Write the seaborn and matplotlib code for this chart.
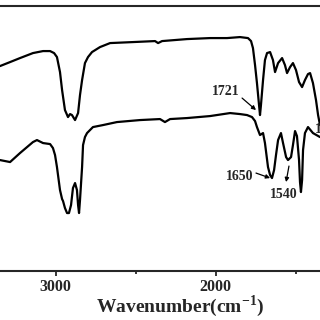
import numpy as np
import pandas as pd
import seaborn as sb
import matplotlib.pyplot as plt

# wavenumber (cm-1) and transmittance (arb. units)
wn_top = [3347, 3284, 3222, 3141, 3078, 3034, 3009, 2991, 2972, 2959, 2941, 2922, 2909, 2897,
          2878, 2859, 2847, 2834, 2816, 2797, 2772, 2722, 2659, 2516, 2378, 2359, 2334, 2178,
          2034, 1928, 1847, 1797, 1778, 1766, 1753, 1741, 1728, 1722, 1716, 1703, 1691, 1678,
          1659, 1641, 1628, 1609, 1584, 1566, 1553, 1534, 1516, 1497, 1478, 1459, 1441, 1422,
          1409, 1391, 1372, 1359, 1347]
t_top = [205, 209, 213, 218, 220, 220, 218, 214, 199, 181, 161, 154, 157, 156,
         151, 158, 176, 191, 208, 214, 219, 224, 228, 229, 230, 228, 230, 232,
         233, 233, 234, 233, 230, 223, 206, 188, 166, 156, 166, 191, 211, 218,
         219, 211, 199, 208, 213, 206, 198, 204, 208, 201, 189, 184, 191, 197,
         198, 188, 171, 156, 146]

wn_bot = [3347, 3284, 3222, 3141, 3116, 3078, 3034, 3016, 3003, 2991, 2972, 2959, 2953, 2941,
          2928, 2916, 2903, 2891, 2878, 2866, 2859, 2853, 2847, 2834, 2828, 2816, 2803, 2766,
          2703, 2616, 2472, 2347, 2316, 2284, 2178, 2034, 1909, 1847, 1803, 1772, 1753, 1741,
          1722, 1703, 1691, 1672, 1659, 1647, 1634, 1622, 1609, 1591, 1578, 1559, 1547, 1528,
          1516, 1503, 1491, 1478, 1472, 1466, 1459, 1453, 1441, 1422, 1391, 1347]
t_bot = [111, 109, 118, 129, 131, 128, 127, 123, 116, 104, 81, 72, 70, 63,
         58, 58, 66, 83, 88, 81, 66, 58, 71, 104, 126, 134, 138, 144,
         146, 149, 151, 152, 149, 152, 153, 155, 158, 157, 156, 154, 150, 144,
         136, 138, 128, 104, 96, 93, 101, 116, 131, 138, 128, 114, 111, 114,
         126, 140, 135, 111, 89, 79, 91, 121, 138, 144, 138, 134]

peak_labels = ["1721", "1650", "1540", "1465"]
label_pos = [(1934, 180), (1847, 95), (1572, 77), (1378, 142)]
label_ha = ["center", "center", "center", "left"]
arrow_tail = [(1834, 173), (1747, 98), (1541, 105)]
arrow_tip = [(1747, 161), (1659, 93), (1559, 89)]

sb.set_style("ticks")
plt.rcParams['font.family'] = ['Liberation Serif', 'DejaVu Serif']
plt.rcParams['mathtext.fontset'] = 'custom'
plt.rcParams['mathtext.bf'] = 'Liberation Serif:bold'
plt.rcParams['mathtext.rm'] = 'Liberation Serif:bold'

top = pd.DataFrame({"wn": wn_top, "T": t_top})
bot = pd.DataFrame({"wn": wn_bot, "T": t_bot})

fig = plt.figure(figsize=(3.2, 3.2), dpi=100)
ax = fig.add_axes([0.0, 0.153, 1.0, 0.828])
sb.lineplot(data=top, x="wn", y="T", color="black", lw=1.6, ax=ax)
sb.lineplot(data=bot, x="wn", y="T", color="black", lw=1.6, ax=ax)

ax.set_xticks([3000, 2000])
ax.set_xticklabels(["3000", "2000"], fontsize=11.5, fontweight="bold")
ax.set_xticks([2500, 1500], minor=True)
ax.set_xlim(3347, 1347)
ax.set_ylim(0, 265)
ax.tick_params(axis="x", which="major", direction="out", length=3.5, width=1.3, pad=2)
ax.tick_params(axis="x", which="minor", direction="out", length=2.5, width=1.3)
ax.set_yticks([])
ax.set_ylabel("")
for s in ["left", "right"]:
    ax.spines[s].set_visible(False)
for s in ["top", "bottom"]:
    ax.spines[s].set_linewidth(1.5)

ax.set_xlabel(r"Wavenumber(cm$^{\mathbf{-1}}$)", fontsize=14, fontweight="bold")
ax.xaxis.set_label_coords(180 / 320, -0.085)
ax.xaxis.label.set_va("top")

for txt, (x, y), ha in zip(peak_labels, label_pos, label_ha):
    ax.text(x, y, txt, ha=ha, va="center", fontsize=10, fontweight="bold")
for tail, tip in zip(arrow_tail, arrow_tip):
    ax.annotate("", xy=tip, xytext=tail,
                arrowprops=dict(arrowstyle="-|>", color="black", lw=0.9,
                                mutation_scale=6, shrinkA=0, shrinkB=0))

fig.savefig("out.png", dpi=100)
